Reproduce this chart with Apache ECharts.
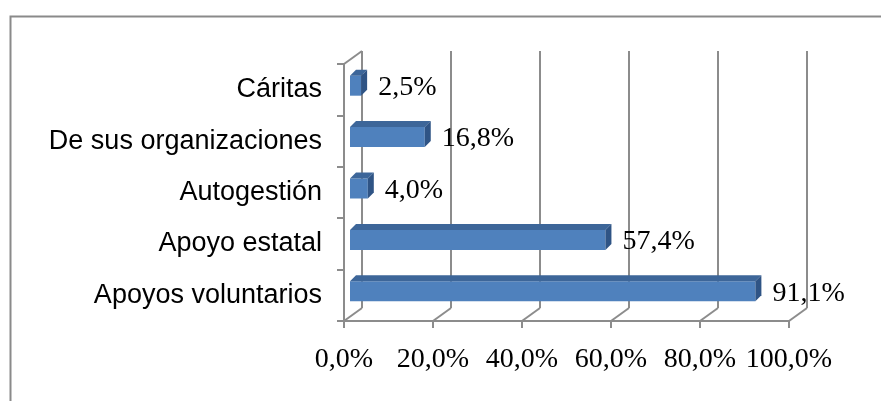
<!DOCTYPE html>
<html>
<head>
<meta charset="utf-8">
<script src="https://cdn.jsdelivr.net/npm/echarts@6/dist/echarts.min.js"></script>
<style>html,body{margin:0;padding:0;background:#fff}#main{width:881px;height:401px}</style>
</head>
<body>
<div id="main"></div>
<script>
// categorias, de abajo hacia arriba
const categories = ['Apoyos voluntarios', 'Apoyo estatal', 'Autogestión', 'De sus organizaciones', 'Cáritas'];
const values = [91.1, 57.4, 4.0, 16.8, 2.5];
const tickValues = [0, 20, 40, 60, 80, 100];

const fmt = v => v.toFixed(1).replace('.', ',') + '%';
const DX = 18, DY = -13; // profundidad de paredes / piso
const BX = 6, BY = 6;    // profundidad de cada barra
const lineColor = '#8c8c8c';

const chart = echarts.init(document.getElementById('main'));

function renderBar(params, api) {
  const cat = api.value(1);
  const v = api.value(0);
  const p0 = api.coord([0, cat]);
  const p1 = api.coord([v, cat]);
  const x0 = p0[0] + 6, x1 = p1[0] + 6;
  const h = 20;
  const y0 = p0[1] - 4 - h / 2, y1 = y0 + h;
  return {
    type: 'group',
    children: [
      { type: 'rect', shape: { x: x0, y: y0, width: x1 - x0, height: h }, style: { fill: '#4f81bd' } },
      { type: 'polygon', shape: { points: [[x0, y0], [x1, y0], [x1 + BX, y0 - BY], [x0 + BX, y0 - BY]] }, style: { fill: '#3d6699' } },
      { type: 'polygon', shape: { points: [[x1, y0], [x1 + BX, y0 - BY], [x1 + BX, y1 - BY], [x1, y1]] }, style: { fill: '#2f5485' } },
      { type: 'text', x: x1 + BX + 11, y: y0 + h / 2 + 2,
        style: { text: fmt(v), fill: '#000', font: '28px "Liberation Serif"', verticalAlign: 'middle', align: 'left' } }
    ]
  };
}

function renderWall(params, api) {
  const v = api.value(0);
  const cs = params.coordSys;
  const x = api.coord([v, 0])[0];
  const yb = cs.y + cs.height;
  const style = { stroke: lineColor, lineWidth: 2 };
  const kids = [{ type: 'line', shape: { x1: x, y1: yb, x2: x + DX, y2: yb + DY }, style: style }];
  if (v === 0) {
    kids.push({ type: 'line', shape: { x1: x, y1: cs.y, x2: x + DX, y2: cs.y + DY }, style: style });
  }
  return { type: 'group', children: kids };
}

const option = {
  animation: false,
  graphic: [{
    type: 'rect', left: 8, top: 14, shape: { x: 0, y: 0, width: 1000, height: 1000 },
    style: { fill: 'none', stroke: '#8a8a8a', lineWidth: 2 }, silent: true
  }],
  grid: [
    { left: 344, right: 92, top: 64, bottom: 80 },
    { left: 344 + DX, right: 92 - DX, top: 64 + DY, bottom: 80 - DY }
  ],
  xAxis: [
    {
      type: 'value', gridIndex: 0, min: 0, max: 100, interval: 20,
      axisLine: { show: true, lineStyle: { color: lineColor, width: 2 } },
      axisTick: { show: true, length: 7, lineStyle: { color: lineColor, width: 2 } },
      splitLine: { show: false },
      axisLabel: { formatter: fmt, margin: 25, color: '#000', fontFamily: 'Liberation Serif', fontSize: 28 }
    },
    {
      type: 'value', gridIndex: 1, min: 0, max: 100, interval: 20,
      axisLine: { show: false }, axisTick: { show: false }, axisLabel: { show: false },
      splitLine: { show: true, lineStyle: { color: lineColor, width: 2 } }
    }
  ],
  yAxis: [
    {
      type: 'category', gridIndex: 0, data: categories,
      axisLine: { show: true, lineStyle: { color: lineColor, width: 2 } },
      axisTick: { show: true, length: 7, lineStyle: { color: lineColor, width: 2 } },
      axisLabel: { margin: 22, color: '#000', fontFamily: 'Liberation Sans', fontSize: 27 }
    },
    { type: 'value', gridIndex: 1, show: false, min: 0, max: 1 }
  ],
  series: [
    {
      type: 'custom', name: 'paredes', xAxisIndex: 0, yAxisIndex: 0, z: 1,
      renderItem: renderWall, data: tickValues.map(v => [v, 0]), encode: { x: 0, y: 1 }
    },
    {
      type: 'custom', name: 'barras', xAxisIndex: 0, yAxisIndex: 0, z: 5,
      renderItem: renderBar, data: values.map((v, i) => [v, i]), encode: { x: 0, y: 1 }
    }
  ]
};
chart.setOption(option);
</script>
</body>
</html>
